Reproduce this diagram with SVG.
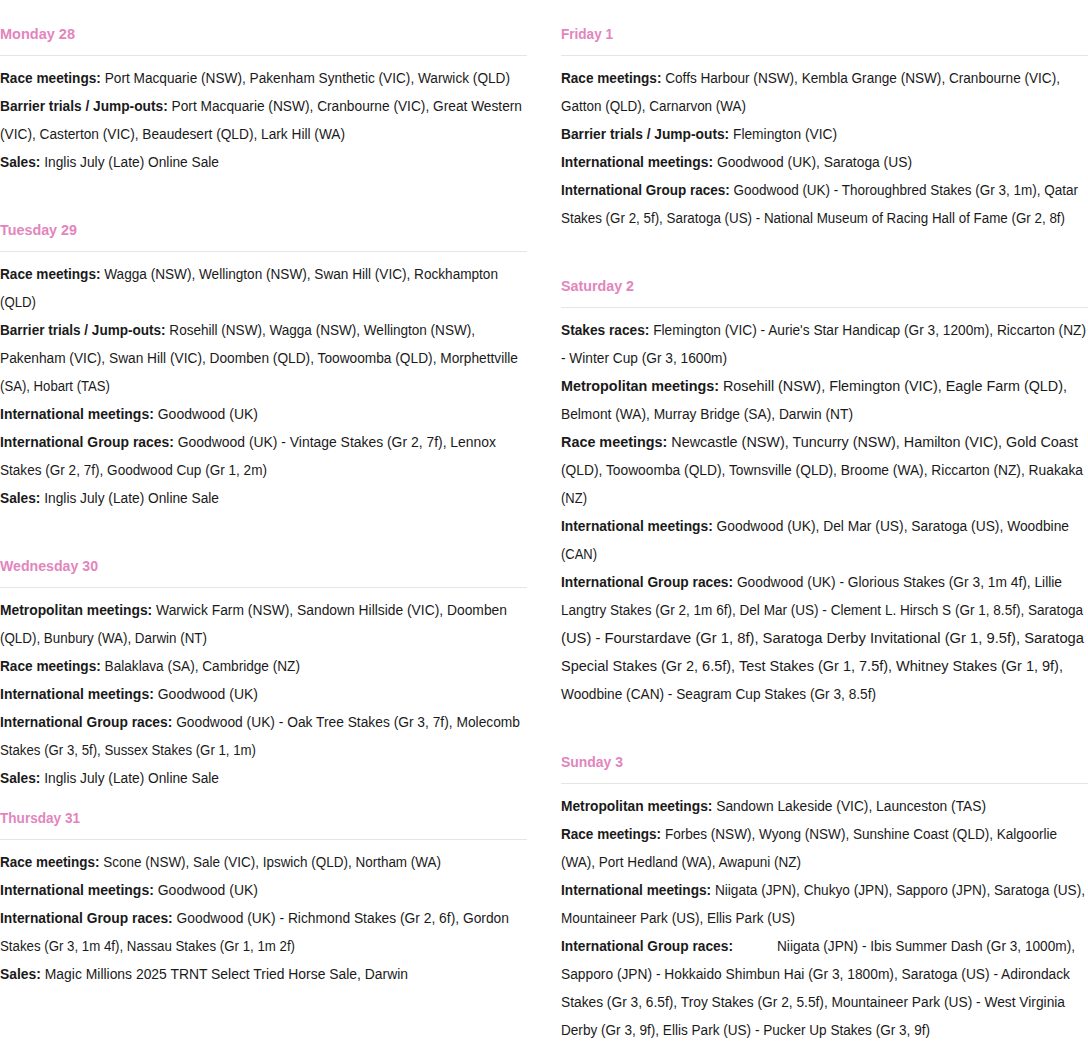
<svg xmlns="http://www.w3.org/2000/svg" width="1088" height="1063" viewBox="0 0 1088 1063">
<style>
text{font-family:"Liberation Sans",Arial,sans-serif;font-size:14px;fill:#1a1a1a}
.h{fill:#e385bd;font-weight:bold;font-size:14px}
.b{font-weight:bold}
line{stroke:#e6e6e6;stroke-width:1}
</style>
<rect width="1088" height="1063" fill="#fff"/>
<g id="monday">
<text class="h" x="0" y="39" textLength="75" lengthAdjust="spacingAndGlyphs">Monday 28</text>
<line x1="0" y1="55.5" x2="527" y2="55.5"/>
<text x="0" y="83" textLength="510" lengthAdjust="spacingAndGlyphs"><tspan class="b">Race meetings:</tspan> Port Macquarie (NSW), Pakenham Synthetic (VIC), Warwick (QLD)</text>
<text x="0" y="111" textLength="522" lengthAdjust="spacingAndGlyphs"><tspan class="b">Barrier trials / Jump-outs:</tspan> Port Macquarie (NSW), Cranbourne (VIC), Great Western</text>
<text x="0" y="139" textLength="345" lengthAdjust="spacingAndGlyphs">(VIC), Casterton (VIC), Beaudesert (QLD), Lark Hill (WA)</text>
<text x="0" y="167" textLength="219" lengthAdjust="spacingAndGlyphs"><tspan class="b">Sales:</tspan> Inglis July (Late) Online Sale</text>
</g>
<g id="tuesday">
<text class="h" x="0" y="235" textLength="77" lengthAdjust="spacingAndGlyphs">Tuesday 29</text>
<line x1="0" y1="251.5" x2="527" y2="251.5"/>
<text x="0" y="279" textLength="498" lengthAdjust="spacingAndGlyphs"><tspan class="b">Race meetings:</tspan> Wagga (NSW), Wellington (NSW), Swan Hill (VIC), Rockhampton</text>
<text x="0" y="307" textLength="36" lengthAdjust="spacingAndGlyphs">(QLD)</text>
<text x="0" y="335" textLength="475" lengthAdjust="spacingAndGlyphs"><tspan class="b">Barrier trials / Jump-outs:</tspan> Rosehill (NSW), Wagga (NSW), Wellington (NSW),</text>
<text x="0" y="363" textLength="518" lengthAdjust="spacingAndGlyphs">Pakenham (VIC), Swan Hill (VIC), Doomben (QLD), Toowoomba (QLD), Morphettville</text>
<text x="0" y="391" textLength="110" lengthAdjust="spacingAndGlyphs">(SA), Hobart (TAS)</text>
<text x="0" y="419" textLength="258" lengthAdjust="spacingAndGlyphs"><tspan class="b">International meetings:</tspan> Goodwood (UK)</text>
<text x="0" y="447" textLength="496" lengthAdjust="spacingAndGlyphs"><tspan class="b">International Group races:</tspan> Goodwood (UK) - Vintage Stakes (Gr  2, 7f), Lennox</text>
<text x="0" y="475" textLength="267" lengthAdjust="spacingAndGlyphs">Stakes (Gr 2, 7f), Goodwood Cup (Gr 1, 2m)</text>
<text x="0" y="503" textLength="219" lengthAdjust="spacingAndGlyphs"><tspan class="b">Sales:</tspan> Inglis July (Late) Online Sale</text>
</g>
<g id="wednesday">
<text class="h" x="0" y="571" textLength="98" lengthAdjust="spacingAndGlyphs">Wednesday 30</text>
<line x1="0" y1="587.5" x2="527" y2="587.5"/>
<text x="0" y="615" textLength="507" lengthAdjust="spacingAndGlyphs"><tspan class="b">Metropolitan meetings:</tspan> Warwick Farm (NSW), Sandown Hillside (VIC), Doomben</text>
<text x="0" y="643" textLength="207" lengthAdjust="spacingAndGlyphs">(QLD), Bunbury (WA), Darwin (NT)</text>
<text x="0" y="671" textLength="300" lengthAdjust="spacingAndGlyphs"><tspan class="b">Race meetings:</tspan> Balaklava (SA), Cambridge (NZ)</text>
<text x="0" y="699" textLength="258" lengthAdjust="spacingAndGlyphs"><tspan class="b">International meetings:</tspan> Goodwood (UK)</text>
<text x="0" y="727" textLength="520" lengthAdjust="spacingAndGlyphs"><tspan class="b">International Group races:</tspan> Goodwood (UK) - Oak Tree Stakes (Gr 3, 7f), Molecomb</text>
<text x="0" y="755" textLength="256" lengthAdjust="spacingAndGlyphs">Stakes (Gr 3, 5f), Sussex Stakes (Gr 1, 1m)</text>
<text x="0" y="783" textLength="219" lengthAdjust="spacingAndGlyphs"><tspan class="b">Sales:</tspan> Inglis July (Late) Online Sale</text>
</g>
<g id="thursday">
<text class="h" x="0" y="823" textLength="80" lengthAdjust="spacingAndGlyphs">Thursday 31</text>
<line x1="0" y1="839.5" x2="527" y2="839.5"/>
<text x="0" y="867" textLength="441" lengthAdjust="spacingAndGlyphs"><tspan class="b">Race meetings:</tspan> Scone (NSW), Sale (VIC), Ipswich (QLD), Northam (WA)</text>
<text x="0" y="895" textLength="258" lengthAdjust="spacingAndGlyphs"><tspan class="b">International meetings:</tspan> Goodwood (UK)</text>
<text x="0" y="923" textLength="509" lengthAdjust="spacingAndGlyphs"><tspan class="b">International Group races:</tspan> Goodwood (UK) - Richmond Stakes (Gr 2, 6f), Gordon</text>
<text x="0" y="951" textLength="295" lengthAdjust="spacingAndGlyphs">Stakes (Gr 3, 1m 4f), Nassau Stakes (Gr 1, 1m 2f)</text>
<text x="0" y="979" textLength="408" lengthAdjust="spacingAndGlyphs"><tspan class="b">Sales:</tspan> Magic Millions 2025 TRNT Select Tried Horse Sale, Darwin</text>
</g>
<g id="friday">
<text class="h" x="561" y="39" textLength="52" lengthAdjust="spacingAndGlyphs">Friday 1</text>
<line x1="561" y1="55.5" x2="1088" y2="55.5"/>
<text x="561" y="83" textLength="499" lengthAdjust="spacingAndGlyphs"><tspan class="b">Race meetings:</tspan> Coffs Harbour (NSW), Kembla Grange (NSW), Cranbourne (VIC),</text>
<text x="561" y="111" textLength="185" lengthAdjust="spacingAndGlyphs">Gatton (QLD), Carnarvon (WA)</text>
<text x="561" y="139" textLength="276" lengthAdjust="spacingAndGlyphs"><tspan class="b">Barrier trials / Jump-outs:</tspan> Flemington (VIC)</text>
<text x="561" y="167" textLength="351" lengthAdjust="spacingAndGlyphs"><tspan class="b">International meetings:</tspan> Goodwood (UK), Saratoga (US)</text>
<text x="561" y="195" textLength="517" lengthAdjust="spacingAndGlyphs"><tspan class="b">International Group races:</tspan> Goodwood (UK) - Thoroughbred Stakes (Gr 3, 1m), Qatar</text>
<text x="561" y="223" textLength="504" lengthAdjust="spacingAndGlyphs">Stakes (Gr 2, 5f), Saratoga (US) - National Museum of Racing Hall of Fame (Gr 2, 8f)</text>
</g>
<g id="saturday">
<text class="h" x="561" y="291" textLength="73" lengthAdjust="spacingAndGlyphs">Saturday 2</text>
<line x1="561" y1="307.5" x2="1088" y2="307.5"/>
<text x="561" y="335" textLength="525" lengthAdjust="spacingAndGlyphs"><tspan class="b">Stakes races:</tspan> Flemington (VIC) - Aurie's Star Handicap (Gr 3, 1200m), Riccarton (NZ)</text>
<text x="561" y="363" textLength="166" lengthAdjust="spacingAndGlyphs">- Winter Cup (Gr 3, 1600m)</text>
<text x="561" y="391" textLength="506" lengthAdjust="spacingAndGlyphs"><tspan class="b">Metropolitan meetings:</tspan> Rosehill (NSW), Flemington (VIC), Eagle Farm (QLD),</text>
<text x="561" y="419" textLength="292" lengthAdjust="spacingAndGlyphs">Belmont (WA), Murray Bridge (SA), Darwin (NT)</text>
<text x="561" y="447" textLength="517" lengthAdjust="spacingAndGlyphs"><tspan class="b">Race meetings:</tspan> Newcastle (NSW), Tuncurry (NSW), Hamilton (VIC), Gold Coast</text>
<text x="561" y="475" textLength="522" lengthAdjust="spacingAndGlyphs">(QLD), Toowoomba (QLD), Townsville (QLD), Broome (WA), Riccarton (NZ), Ruakaka</text>
<text x="561" y="503" textLength="26" lengthAdjust="spacingAndGlyphs">(NZ)</text>
<text x="561" y="531" textLength="508" lengthAdjust="spacingAndGlyphs"><tspan class="b">International meetings:</tspan> Goodwood (UK), Del Mar (US), Saratoga (US), Woodbine</text>
<text x="561" y="559" textLength="36" lengthAdjust="spacingAndGlyphs">(CAN)</text>
<text x="561" y="587" textLength="501" lengthAdjust="spacingAndGlyphs"><tspan class="b">International Group races:</tspan> Goodwood (UK) - Glorious Stakes (Gr 3, 1m 4f), Lillie</text>
<text x="561" y="615" textLength="522" lengthAdjust="spacingAndGlyphs">Langtry Stakes (Gr 2, 1m 6f), Del Mar (US) - Clement L. Hirsch S (Gr 1, 8.5f), Saratoga</text>
<text x="561" y="643" textLength="523" lengthAdjust="spacingAndGlyphs">(US) - Fourstardave (Gr 1, 8f), Saratoga Derby Invitational (Gr 1, 9.5f), Saratoga</text>
<text x="561" y="671" textLength="502" lengthAdjust="spacingAndGlyphs">Special Stakes (Gr 2, 6.5f), Test Stakes (Gr 1, 7.5f), Whitney Stakes (Gr 1, 9f),</text>
<text x="561" y="699" textLength="315" lengthAdjust="spacingAndGlyphs">Woodbine (CAN) - Seagram Cup Stakes (Gr 3, 8.5f)</text>
</g>
<g id="sunday">
<text class="h" x="561" y="767" textLength="62" lengthAdjust="spacingAndGlyphs">Sunday 3</text>
<line x1="561" y1="783.5" x2="1088" y2="783.5"/>
<text x="561" y="811" textLength="425" lengthAdjust="spacingAndGlyphs"><tspan class="b">Metropolitan meetings:</tspan> Sandown Lakeside (VIC), Launceston (TAS)</text>
<text x="561" y="839" textLength="496" lengthAdjust="spacingAndGlyphs"><tspan class="b">Race meetings:</tspan> Forbes (NSW), Wyong (NSW), Sunshine Coast (QLD), Kalgoorlie</text>
<text x="561" y="867" textLength="240" lengthAdjust="spacingAndGlyphs">(WA), Port Hedland (WA), Awapuni (NZ)</text>
<text x="561" y="895" textLength="524" lengthAdjust="spacingAndGlyphs"><tspan class="b">International meetings:</tspan> Niigata (JPN), Chukyo (JPN), Sapporo (JPN), Saratoga (US),</text>
<text x="561" y="923" textLength="234" lengthAdjust="spacingAndGlyphs">Mountaineer Park (US), Ellis Park (US)</text>
<text class="b" x="561" y="951" textLength="172" lengthAdjust="spacingAndGlyphs">International Group races:</text>
<text x="777" y="951" textLength="298" lengthAdjust="spacingAndGlyphs">Niigata (JPN) - Ibis Summer Dash (Gr 3, 1000m),</text>
<text x="561" y="979" textLength="509" lengthAdjust="spacingAndGlyphs">Sapporo (JPN) - Hokkaido Shimbun Hai (Gr 3, 1800m), Saratoga (US) - Adirondack</text>
<text x="561" y="1007" textLength="504" lengthAdjust="spacingAndGlyphs">Stakes (Gr 3, 6.5f), Troy Stakes (Gr 2, 5.5f), Mountaineer Park (US) - West Virginia</text>
<text x="561" y="1035" textLength="369" lengthAdjust="spacingAndGlyphs">Derby (Gr 3, 9f), Ellis Park (US) - Pucker Up Stakes (Gr 3, 9f)</text>
</g>
</svg>
